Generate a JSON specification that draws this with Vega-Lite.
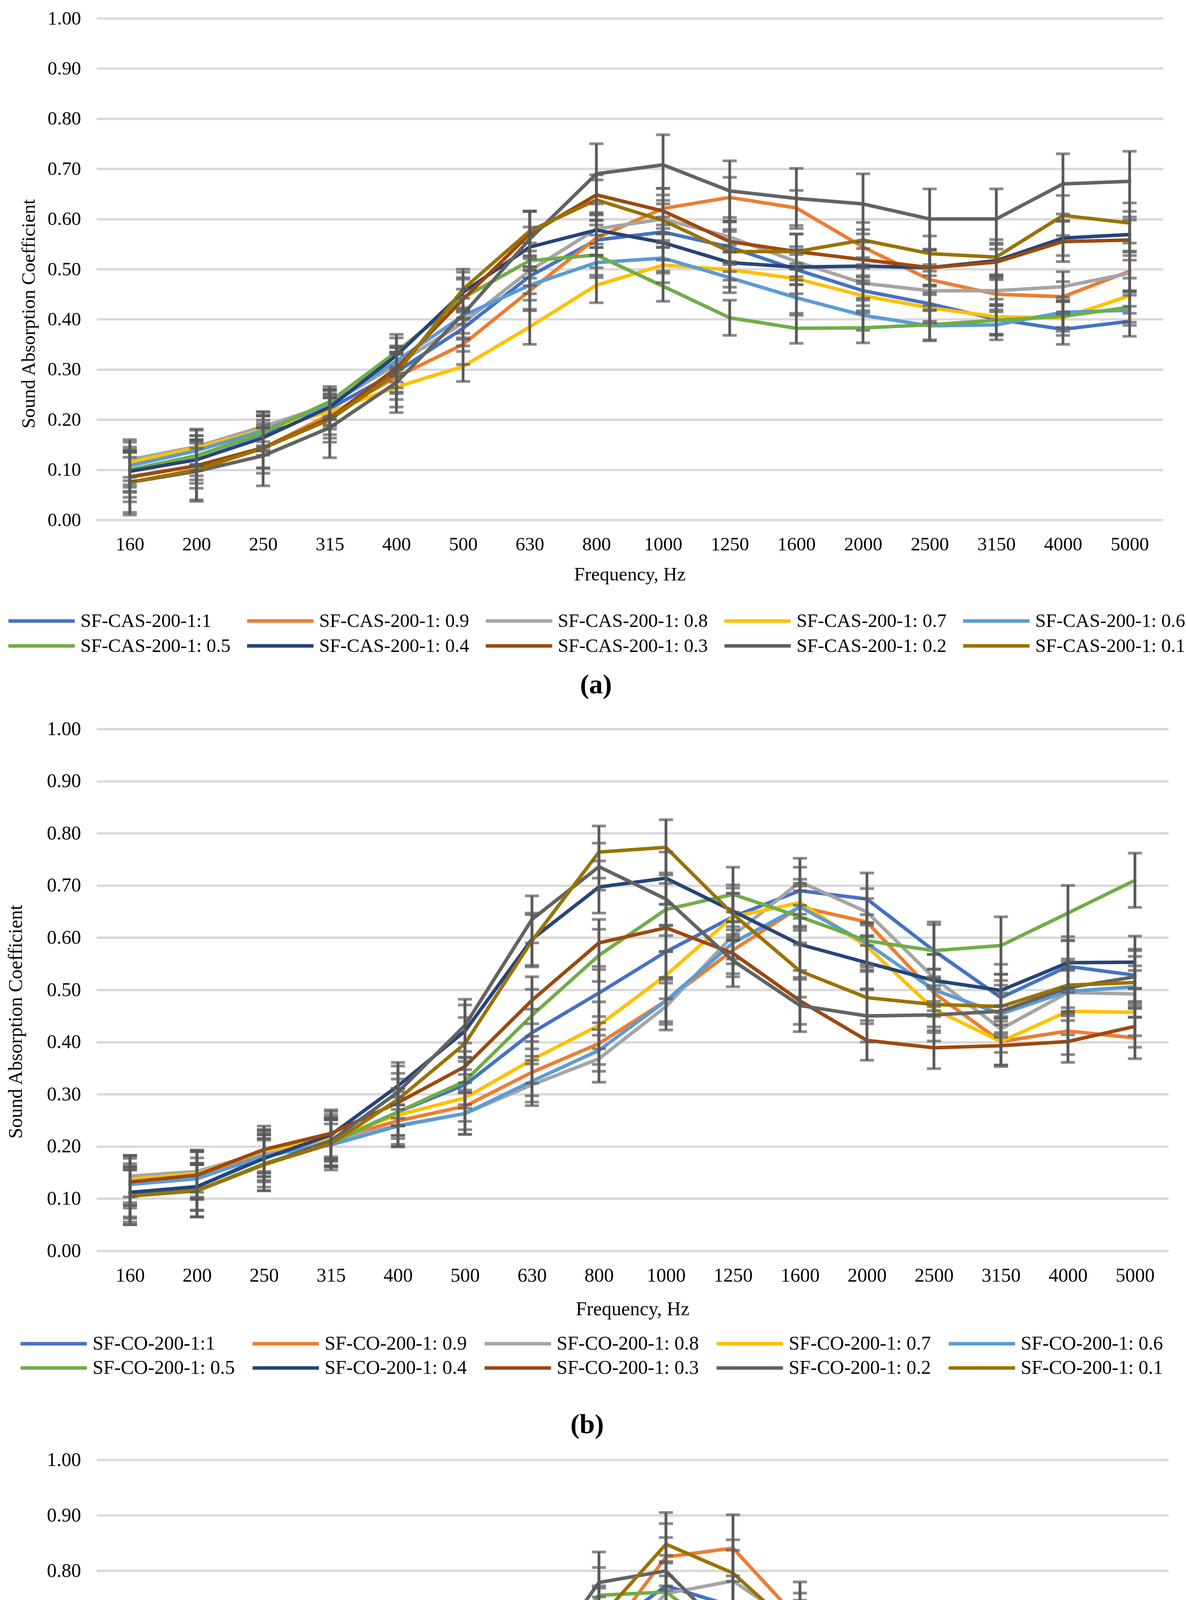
{
  "$schema": "https://vega.github.io/schema/vega-lite/v6.json",
  "background": "white",
  "padding": {"left": 15, "top": 23, "right": 5, "bottom": 5},
  "config": {
    "font": "Liberation Serif",
    "view": {"stroke": null},
    "axis": {"labelFont": "Liberation Serif", "titleFont": "Liberation Serif", "labelColor": "black", "titleColor": "black", "titleFontWeight": "normal"},
    "legend": {"labelFont": "Liberation Serif", "labelColor": "black"},
    "title": {"font": "Liberation Serif", "color": "black"}
  },
  "datasets": {
    "cas": [
      {"f":160,"s":"1:1","v":0.100,"e":0.045},{"f":200,"s":"1:1","v":0.128,"e":0.040},{"f":250,"s":"1:1","v":0.172,"e":0.035},{"f":315,"s":"1:1","v":0.222,"e":0.035},{"f":400,"s":"1:1","v":0.295,"e":0.040},{"f":500,"s":"1:1","v":0.382,"e":0.035},{"f":630,"s":"1:1","v":0.486,"e":0.035},{"f":800,"s":"1:1","v":0.558,"e":0.030},{"f":1000,"s":"1:1","v":0.574,"e":0.030},{"f":1250,"s":"1:1","v":0.544,"e":0.035},{"f":1600,"s":"1:1","v":0.499,"e":0.030},{"f":2000,"s":"1:1","v":0.457,"e":0.030},{"f":2500,"s":"1:1","v":0.431,"e":0.035},{"f":3150,"s":"1:1","v":0.400,"e":0.030},{"f":4000,"s":"1:1","v":0.380,"e":0.030},{"f":5000,"s":"1:1","v":0.396,"e":0.030},
      {"f":160,"s":"1: 0.9","v":0.085,"e":0.040},{"f":200,"s":"1: 0.9","v":0.108,"e":0.035},{"f":250,"s":"1: 0.9","v":0.143,"e":0.040},{"f":315,"s":"1: 0.9","v":0.210,"e":0.040},{"f":400,"s":"1: 0.9","v":0.285,"e":0.045},{"f":500,"s":"1: 0.9","v":0.350,"e":0.040},{"f":630,"s":"1: 0.9","v":0.457,"e":0.040},{"f":800,"s":"1: 0.9","v":0.562,"e":0.035},{"f":1000,"s":"1: 0.9","v":0.621,"e":0.040},{"f":1250,"s":"1: 0.9","v":0.643,"e":0.040},{"f":1600,"s":"1: 0.9","v":0.622,"e":0.035},{"f":2000,"s":"1: 0.9","v":0.544,"e":0.035},{"f":2500,"s":"1: 0.9","v":0.479,"e":0.030},{"f":3150,"s":"1: 0.9","v":0.450,"e":0.035},{"f":4000,"s":"1: 0.9","v":0.445,"e":0.030},{"f":5000,"s":"1: 0.9","v":0.496,"e":0.040},
      {"f":160,"s":"1: 0.8","v":0.120,"e":0.035},{"f":200,"s":"1: 0.8","v":0.146,"e":0.035},{"f":250,"s":"1: 0.8","v":0.186,"e":0.030},{"f":315,"s":"1: 0.8","v":0.230,"e":0.030},{"f":400,"s":"1: 0.8","v":0.310,"e":0.035},{"f":500,"s":"1: 0.8","v":0.393,"e":0.030},{"f":630,"s":"1: 0.8","v":0.497,"e":0.030},{"f":800,"s":"1: 0.8","v":0.580,"e":0.030},{"f":1000,"s":"1: 0.8","v":0.600,"e":0.030},{"f":1250,"s":"1: 0.8","v":0.564,"e":0.030},{"f":1600,"s":"1: 0.8","v":0.515,"e":0.030},{"f":2000,"s":"1: 0.8","v":0.472,"e":0.030},{"f":2500,"s":"1: 0.8","v":0.457,"e":0.030},{"f":3150,"s":"1: 0.8","v":0.457,"e":0.030},{"f":4000,"s":"1: 0.8","v":0.465,"e":0.030},{"f":5000,"s":"1: 0.8","v":0.492,"e":0.035},
      {"f":160,"s":"1: 0.7","v":0.115,"e":0.045},{"f":200,"s":"1: 0.7","v":0.144,"e":0.035},{"f":250,"s":"1: 0.7","v":0.180,"e":0.035},{"f":315,"s":"1: 0.7","v":0.216,"e":0.035},{"f":400,"s":"1: 0.7","v":0.265,"e":0.040},{"f":500,"s":"1: 0.7","v":0.306,"e":0.030},{"f":630,"s":"1: 0.7","v":0.385,"e":0.035},{"f":800,"s":"1: 0.7","v":0.468,"e":0.035},{"f":1000,"s":"1: 0.7","v":0.508,"e":0.035},{"f":1250,"s":"1: 0.7","v":0.499,"e":0.035},{"f":1600,"s":"1: 0.7","v":0.481,"e":0.030},{"f":2000,"s":"1: 0.7","v":0.447,"e":0.030},{"f":2500,"s":"1: 0.7","v":0.423,"e":0.030},{"f":3150,"s":"1: 0.7","v":0.405,"e":0.035},{"f":4000,"s":"1: 0.7","v":0.403,"e":0.035},{"f":5000,"s":"1: 0.7","v":0.447,"e":0.035},
      {"f":160,"s":"1: 0.6","v":0.108,"e":0.030},{"f":200,"s":"1: 0.6","v":0.138,"e":0.030},{"f":250,"s":"1: 0.6","v":0.178,"e":0.030},{"f":315,"s":"1: 0.6","v":0.230,"e":0.030},{"f":400,"s":"1: 0.6","v":0.317,"e":0.030},{"f":500,"s":"1: 0.6","v":0.407,"e":0.035},{"f":630,"s":"1: 0.6","v":0.468,"e":0.030},{"f":800,"s":"1: 0.6","v":0.513,"e":0.030},{"f":1000,"s":"1: 0.6","v":0.522,"e":0.030},{"f":1250,"s":"1: 0.6","v":0.483,"e":0.030},{"f":1600,"s":"1: 0.6","v":0.443,"e":0.035},{"f":2000,"s":"1: 0.6","v":0.408,"e":0.030},{"f":2500,"s":"1: 0.6","v":0.387,"e":0.030},{"f":3150,"s":"1: 0.6","v":0.389,"e":0.030},{"f":4000,"s":"1: 0.6","v":0.414,"e":0.030},{"f":5000,"s":"1: 0.6","v":0.418,"e":0.030},
      {"f":160,"s":"1: 0.5","v":0.100,"e":0.035},{"f":200,"s":"1: 0.5","v":0.128,"e":0.030},{"f":250,"s":"1: 0.5","v":0.174,"e":0.035},{"f":315,"s":"1: 0.5","v":0.236,"e":0.030},{"f":400,"s":"1: 0.5","v":0.335,"e":0.035},{"f":500,"s":"1: 0.5","v":0.443,"e":0.040},{"f":630,"s":"1: 0.5","v":0.517,"e":0.035},{"f":800,"s":"1: 0.5","v":0.528,"e":0.040},{"f":1000,"s":"1: 0.5","v":0.466,"e":0.030},{"f":1250,"s":"1: 0.5","v":0.403,"e":0.035},{"f":1600,"s":"1: 0.5","v":0.382,"e":0.030},{"f":2000,"s":"1: 0.5","v":0.383,"e":0.030},{"f":2500,"s":"1: 0.5","v":0.389,"e":0.030},{"f":3150,"s":"1: 0.5","v":0.398,"e":0.030},{"f":4000,"s":"1: 0.5","v":0.406,"e":0.030},{"f":5000,"s":"1: 0.5","v":0.424,"e":0.030},
      {"f":160,"s":"1: 0.4","v":0.097,"e":0.040},{"f":200,"s":"1: 0.4","v":0.120,"e":0.040},{"f":250,"s":"1: 0.4","v":0.164,"e":0.035},{"f":315,"s":"1: 0.4","v":0.225,"e":0.035},{"f":400,"s":"1: 0.4","v":0.328,"e":0.035},{"f":500,"s":"1: 0.4","v":0.454,"e":0.040},{"f":630,"s":"1: 0.4","v":0.544,"e":0.040},{"f":800,"s":"1: 0.4","v":0.578,"e":0.035},{"f":1000,"s":"1: 0.4","v":0.553,"e":0.035},{"f":1250,"s":"1: 0.4","v":0.513,"e":0.035},{"f":1600,"s":"1: 0.4","v":0.504,"e":0.035},{"f":2000,"s":"1: 0.4","v":0.506,"e":0.035},{"f":2500,"s":"1: 0.4","v":0.503,"e":0.035},{"f":3150,"s":"1: 0.4","v":0.517,"e":0.035},{"f":4000,"s":"1: 0.4","v":0.562,"e":0.035},{"f":5000,"s":"1: 0.4","v":0.569,"e":0.035},
      {"f":160,"s":"1: 0.3","v":0.086,"e":0.050},{"f":200,"s":"1: 0.3","v":0.108,"e":0.045},{"f":250,"s":"1: 0.3","v":0.144,"e":0.040},{"f":315,"s":"1: 0.3","v":0.203,"e":0.040},{"f":400,"s":"1: 0.3","v":0.303,"e":0.040},{"f":500,"s":"1: 0.3","v":0.440,"e":0.040},{"f":630,"s":"1: 0.3","v":0.570,"e":0.045},{"f":800,"s":"1: 0.3","v":0.648,"e":0.040},{"f":1000,"s":"1: 0.3","v":0.616,"e":0.045},{"f":1250,"s":"1: 0.3","v":0.555,"e":0.040},{"f":1600,"s":"1: 0.3","v":0.535,"e":0.035},{"f":2000,"s":"1: 0.3","v":0.519,"e":0.035},{"f":2500,"s":"1: 0.3","v":0.503,"e":0.035},{"f":3150,"s":"1: 0.3","v":0.514,"e":0.035},{"f":4000,"s":"1: 0.3","v":0.555,"e":0.040},{"f":5000,"s":"1: 0.3","v":0.558,"e":0.040},
      {"f":160,"s":"1: 0.2","v":0.075,"e":0.060},{"f":200,"s":"1: 0.2","v":0.097,"e":0.060},{"f":250,"s":"1: 0.2","v":0.128,"e":0.060},{"f":315,"s":"1: 0.2","v":0.184,"e":0.060},{"f":400,"s":"1: 0.2","v":0.274,"e":0.060},{"f":500,"s":"1: 0.2","v":0.410,"e":0.050},{"f":630,"s":"1: 0.2","v":0.560,"e":0.055},{"f":800,"s":"1: 0.2","v":0.690,"e":0.060},{"f":1000,"s":"1: 0.2","v":0.708,"e":0.060},{"f":1250,"s":"1: 0.2","v":0.656,"e":0.060},{"f":1600,"s":"1: 0.2","v":0.641,"e":0.060},{"f":2000,"s":"1: 0.2","v":0.630,"e":0.060},{"f":2500,"s":"1: 0.2","v":0.600,"e":0.060},{"f":3150,"s":"1: 0.2","v":0.600,"e":0.060},{"f":4000,"s":"1: 0.2","v":0.670,"e":0.060},{"f":5000,"s":"1: 0.2","v":0.675,"e":0.060},
      {"f":160,"s":"1: 0.1","v":0.075,"e":0.065},{"f":200,"s":"1: 0.1","v":0.100,"e":0.060},{"f":250,"s":"1: 0.1","v":0.143,"e":0.050},{"f":315,"s":"1: 0.1","v":0.200,"e":0.045},{"f":400,"s":"1: 0.1","v":0.292,"e":0.040},{"f":500,"s":"1: 0.1","v":0.460,"e":0.040},{"f":630,"s":"1: 0.1","v":0.576,"e":0.040},{"f":800,"s":"1: 0.1","v":0.638,"e":0.040},{"f":1000,"s":"1: 0.1","v":0.597,"e":0.040},{"f":1250,"s":"1: 0.1","v":0.535,"e":0.040},{"f":1600,"s":"1: 0.1","v":0.535,"e":0.035},{"f":2000,"s":"1: 0.1","v":0.558,"e":0.035},{"f":2500,"s":"1: 0.1","v":0.531,"e":0.035},{"f":3150,"s":"1: 0.1","v":0.524,"e":0.035},{"f":4000,"s":"1: 0.1","v":0.607,"e":0.040},{"f":5000,"s":"1: 0.1","v":0.592,"e":0.040}
    ],
    "co": [
      {"f":160,"s":"1:1","v":0.110,"e":0.045},{"f":200,"s":"1:1","v":0.122,"e":0.045},{"f":250,"s":"1:1","v":0.180,"e":0.045},{"f":315,"s":"1:1","v":0.208,"e":0.045},{"f":400,"s":"1:1","v":0.266,"e":0.045},{"f":500,"s":"1:1","v":0.318,"e":0.045},{"f":630,"s":"1:1","v":0.418,"e":0.045},{"f":800,"s":"1:1","v":0.494,"e":0.045},{"f":1000,"s":"1:1","v":0.573,"e":0.050},{"f":1250,"s":"1:1","v":0.640,"e":0.045},{"f":1600,"s":"1:1","v":0.690,"e":0.045},{"f":2000,"s":"1:1","v":0.674,"e":0.050},{"f":2500,"s":"1:1","v":0.575,"e":0.050},{"f":3150,"s":"1:1","v":0.485,"e":0.045},{"f":4000,"s":"1:1","v":0.545,"e":0.050},{"f":5000,"s":"1:1","v":0.528,"e":0.050},
      {"f":160,"s":"1: 0.9","v":0.132,"e":0.045},{"f":200,"s":"1: 0.9","v":0.145,"e":0.045},{"f":250,"s":"1: 0.9","v":0.187,"e":0.045},{"f":315,"s":"1: 0.9","v":0.213,"e":0.040},{"f":400,"s":"1: 0.9","v":0.249,"e":0.045},{"f":500,"s":"1: 0.9","v":0.277,"e":0.045},{"f":630,"s":"1: 0.9","v":0.342,"e":0.045},{"f":800,"s":"1: 0.9","v":0.397,"e":0.040},{"f":1000,"s":"1: 0.9","v":0.479,"e":0.045},{"f":1250,"s":"1: 0.9","v":0.576,"e":0.045},{"f":1600,"s":"1: 0.9","v":0.659,"e":0.045},{"f":2000,"s":"1: 0.9","v":0.630,"e":0.045},{"f":2500,"s":"1: 0.9","v":0.494,"e":0.045},{"f":3150,"s":"1: 0.9","v":0.401,"e":0.045},{"f":4000,"s":"1: 0.9","v":0.421,"e":0.045},{"f":5000,"s":"1: 0.9","v":0.408,"e":0.040},
      {"f":160,"s":"1: 0.8","v":0.143,"e":0.040},{"f":200,"s":"1: 0.8","v":0.152,"e":0.040},{"f":250,"s":"1: 0.8","v":0.189,"e":0.040},{"f":315,"s":"1: 0.8","v":0.211,"e":0.040},{"f":400,"s":"1: 0.8","v":0.240,"e":0.040},{"f":500,"s":"1: 0.8","v":0.263,"e":0.040},{"f":630,"s":"1: 0.8","v":0.318,"e":0.040},{"f":800,"s":"1: 0.8","v":0.368,"e":0.045},{"f":1000,"s":"1: 0.8","v":0.468,"e":0.045},{"f":1250,"s":"1: 0.8","v":0.604,"e":0.045},{"f":1600,"s":"1: 0.8","v":0.707,"e":0.045},{"f":2000,"s":"1: 0.8","v":0.649,"e":0.045},{"f":2500,"s":"1: 0.8","v":0.523,"e":0.045},{"f":3150,"s":"1: 0.8","v":0.425,"e":0.045},{"f":4000,"s":"1: 0.8","v":0.495,"e":0.045},{"f":5000,"s":"1: 0.8","v":0.492,"e":0.045},
      {"f":160,"s":"1: 0.7","v":0.137,"e":0.045},{"f":200,"s":"1: 0.7","v":0.148,"e":0.045},{"f":250,"s":"1: 0.7","v":0.192,"e":0.040},{"f":315,"s":"1: 0.7","v":0.216,"e":0.040},{"f":400,"s":"1: 0.7","v":0.260,"e":0.045},{"f":500,"s":"1: 0.7","v":0.293,"e":0.045},{"f":630,"s":"1: 0.7","v":0.366,"e":0.045},{"f":800,"s":"1: 0.7","v":0.432,"e":0.045},{"f":1000,"s":"1: 0.7","v":0.528,"e":0.045},{"f":1250,"s":"1: 0.7","v":0.640,"e":0.045},{"f":1600,"s":"1: 0.7","v":0.667,"e":0.045},{"f":2000,"s":"1: 0.7","v":0.583,"e":0.045},{"f":2500,"s":"1: 0.7","v":0.463,"e":0.045},{"f":3150,"s":"1: 0.7","v":0.401,"e":0.045},{"f":4000,"s":"1: 0.7","v":0.459,"e":0.045},{"f":5000,"s":"1: 0.7","v":0.457,"e":0.045},
      {"f":160,"s":"1: 0.6","v":0.127,"e":0.040},{"f":200,"s":"1: 0.6","v":0.138,"e":0.040},{"f":250,"s":"1: 0.6","v":0.182,"e":0.040},{"f":315,"s":"1: 0.6","v":0.203,"e":0.040},{"f":400,"s":"1: 0.6","v":0.239,"e":0.040},{"f":500,"s":"1: 0.6","v":0.263,"e":0.040},{"f":630,"s":"1: 0.6","v":0.325,"e":0.040},{"f":800,"s":"1: 0.6","v":0.384,"e":0.040},{"f":1000,"s":"1: 0.6","v":0.479,"e":0.040},{"f":1250,"s":"1: 0.6","v":0.590,"e":0.040},{"f":1600,"s":"1: 0.6","v":0.659,"e":0.040},{"f":2000,"s":"1: 0.6","v":0.589,"e":0.040},{"f":2500,"s":"1: 0.6","v":0.500,"e":0.040},{"f":3150,"s":"1: 0.6","v":0.454,"e":0.040},{"f":4000,"s":"1: 0.6","v":0.497,"e":0.040},{"f":5000,"s":"1: 0.6","v":0.506,"e":0.040},
      {"f":160,"s":"1: 0.5","v":0.105,"e":0.055},{"f":200,"s":"1: 0.5","v":0.115,"e":0.050},{"f":250,"s":"1: 0.5","v":0.167,"e":0.045},{"f":315,"s":"1: 0.5","v":0.206,"e":0.045},{"f":400,"s":"1: 0.5","v":0.266,"e":0.045},{"f":500,"s":"1: 0.5","v":0.325,"e":0.045},{"f":630,"s":"1: 0.5","v":0.451,"e":0.050},{"f":800,"s":"1: 0.5","v":0.566,"e":0.050},{"f":1000,"s":"1: 0.5","v":0.654,"e":0.050},{"f":1250,"s":"1: 0.5","v":0.683,"e":0.052},{"f":1600,"s":"1: 0.5","v":0.640,"e":0.050},{"f":2000,"s":"1: 0.5","v":0.594,"e":0.050},{"f":2500,"s":"1: 0.5","v":0.575,"e":0.055},{"f":3150,"s":"1: 0.5","v":0.585,"e":0.055},{"f":4000,"s":"1: 0.5","v":0.647,"e":0.053},{"f":5000,"s":"1: 0.5","v":0.710,"e":0.052},
      {"f":160,"s":"1: 0.4","v":0.112,"e":0.050},{"f":200,"s":"1: 0.4","v":0.123,"e":0.045},{"f":250,"s":"1: 0.4","v":0.177,"e":0.045},{"f":315,"s":"1: 0.4","v":0.222,"e":0.045},{"f":400,"s":"1: 0.4","v":0.316,"e":0.045},{"f":500,"s":"1: 0.4","v":0.421,"e":0.050},{"f":630,"s":"1: 0.4","v":0.597,"e":0.050},{"f":800,"s":"1: 0.4","v":0.697,"e":0.050},{"f":1000,"s":"1: 0.4","v":0.714,"e":0.050},{"f":1250,"s":"1: 0.4","v":0.651,"e":0.050},{"f":1600,"s":"1: 0.4","v":0.587,"e":0.050},{"f":2000,"s":"1: 0.4","v":0.552,"e":0.050},{"f":2500,"s":"1: 0.4","v":0.518,"e":0.050},{"f":3150,"s":"1: 0.4","v":0.499,"e":0.050},{"f":4000,"s":"1: 0.4","v":0.552,"e":0.050},{"f":5000,"s":"1: 0.4","v":0.553,"e":0.050},
      {"f":160,"s":"1: 0.3","v":0.132,"e":0.050},{"f":200,"s":"1: 0.3","v":0.145,"e":0.045},{"f":250,"s":"1: 0.3","v":0.194,"e":0.045},{"f":315,"s":"1: 0.3","v":0.225,"e":0.045},{"f":400,"s":"1: 0.3","v":0.284,"e":0.045},{"f":500,"s":"1: 0.3","v":0.353,"e":0.045},{"f":630,"s":"1: 0.3","v":0.480,"e":0.045},{"f":800,"s":"1: 0.3","v":0.590,"e":0.045},{"f":1000,"s":"1: 0.3","v":0.619,"e":0.045},{"f":1250,"s":"1: 0.3","v":0.570,"e":0.045},{"f":1600,"s":"1: 0.3","v":0.479,"e":0.045},{"f":2000,"s":"1: 0.3","v":0.403,"e":0.038},{"f":2500,"s":"1: 0.3","v":0.389,"e":0.040},{"f":3150,"s":"1: 0.3","v":0.393,"e":0.040},{"f":4000,"s":"1: 0.3","v":0.401,"e":0.040},{"f":5000,"s":"1: 0.3","v":0.430,"e":0.040},
      {"f":160,"s":"1: 0.2","v":0.105,"e":0.050},{"f":200,"s":"1: 0.2","v":0.115,"e":0.050},{"f":250,"s":"1: 0.2","v":0.165,"e":0.050},{"f":315,"s":"1: 0.2","v":0.211,"e":0.050},{"f":400,"s":"1: 0.2","v":0.304,"e":0.050},{"f":500,"s":"1: 0.2","v":0.432,"e":0.050},{"f":630,"s":"1: 0.2","v":0.635,"e":0.045},{"f":800,"s":"1: 0.2","v":0.736,"e":0.045},{"f":1000,"s":"1: 0.2","v":0.674,"e":0.050},{"f":1250,"s":"1: 0.2","v":0.556,"e":0.050},{"f":1600,"s":"1: 0.2","v":0.470,"e":0.050},{"f":2000,"s":"1: 0.2","v":0.450,"e":0.050},{"f":2500,"s":"1: 0.2","v":0.452,"e":0.050},{"f":3150,"s":"1: 0.2","v":0.459,"e":0.050},{"f":4000,"s":"1: 0.2","v":0.504,"e":0.050},{"f":5000,"s":"1: 0.2","v":0.525,"e":0.050},
      {"f":160,"s":"1: 0.1","v":0.105,"e":0.055},{"f":200,"s":"1: 0.1","v":0.115,"e":0.050},{"f":250,"s":"1: 0.1","v":0.165,"e":0.050},{"f":315,"s":"1: 0.1","v":0.205,"e":0.050},{"f":400,"s":"1: 0.1","v":0.290,"e":0.050},{"f":500,"s":"1: 0.1","v":0.397,"e":0.050},{"f":630,"s":"1: 0.1","v":0.594,"e":0.050},{"f":800,"s":"1: 0.1","v":0.764,"e":0.050},{"f":1000,"s":"1: 0.1","v":0.773,"e":0.053},{"f":1250,"s":"1: 0.1","v":0.645,"e":0.050},{"f":1600,"s":"1: 0.1","v":0.536,"e":0.050},{"f":2000,"s":"1: 0.1","v":0.485,"e":0.050},{"f":2500,"s":"1: 0.1","v":0.472,"e":0.050},{"f":3150,"s":"1: 0.1","v":0.468,"e":0.050},{"f":4000,"s":"1: 0.1","v":0.509,"e":0.050},{"f":5000,"s":"1: 0.1","v":0.514,"e":0.050}
    ],
    "pt": [
      {"f":160,"s":"1:1","v":0.102,"e":0.050},{"f":200,"s":"1:1","v":0.125,"e":0.050},{"f":250,"s":"1:1","v":0.195,"e":0.050},{"f":315,"s":"1:1","v":0.181,"e":0.050},{"f":400,"s":"1:1","v":0.255,"e":0.050},{"f":500,"s":"1:1","v":0.345,"e":0.050},{"f":630,"s":"1:1","v":0.493,"e":0.050},{"f":800,"s":"1:1","v":0.685,"e":0.050},{"f":1000,"s":"1:1","v":0.773,"e":0.055},{"f":1250,"s":"1:1","v":0.736,"e":0.055},{"f":1600,"s":"1:1","v":0.644,"e":0.060},{"f":2000,"s":"1:1","v":0.568,"e":0.050},{"f":2500,"s":"1:1","v":0.527,"e":0.050},{"f":3150,"s":"1:1","v":0.509,"e":0.050},{"f":4000,"s":"1:1","v":0.560,"e":0.050},{"f":5000,"s":"1:1","v":0.555,"e":0.050},
      {"f":160,"s":"1: 0.9","v":0.092,"e":0.060},{"f":200,"s":"1: 0.9","v":0.113,"e":0.055},{"f":250,"s":"1: 0.9","v":0.181,"e":0.055},{"f":315,"s":"1: 0.9","v":0.152,"e":0.060},{"f":400,"s":"1: 0.9","v":0.217,"e":0.060},{"f":500,"s":"1: 0.9","v":0.302,"e":0.060},{"f":630,"s":"1: 0.9","v":0.450,"e":0.060},{"f":800,"s":"1: 0.9","v":0.665,"e":0.055},{"f":1000,"s":"1: 0.9","v":0.825,"e":0.060},{"f":1250,"s":"1: 0.9","v":0.841,"e":0.060},{"f":1600,"s":"1: 0.9","v":0.710,"e":0.070},{"f":2000,"s":"1: 0.9","v":0.572,"e":0.055},{"f":2500,"s":"1: 0.9","v":0.474,"e":0.050},{"f":3150,"s":"1: 0.9","v":0.447,"e":0.050},{"f":4000,"s":"1: 0.9","v":0.466,"e":0.050},{"f":5000,"s":"1: 0.9","v":0.495,"e":0.050},
      {"f":160,"s":"1: 0.8","v":0.095,"e":0.055},{"f":200,"s":"1: 0.8","v":0.118,"e":0.055},{"f":250,"s":"1: 0.8","v":0.184,"e":0.055},{"f":315,"s":"1: 0.8","v":0.159,"e":0.055},{"f":400,"s":"1: 0.8","v":0.223,"e":0.055},{"f":500,"s":"1: 0.8","v":0.312,"e":0.055},{"f":630,"s":"1: 0.8","v":0.453,"e":0.055},{"f":800,"s":"1: 0.8","v":0.635,"e":0.055},{"f":1000,"s":"1: 0.8","v":0.759,"e":0.055},{"f":1250,"s":"1: 0.8","v":0.782,"e":0.055},{"f":1600,"s":"1: 0.8","v":0.700,"e":0.060},{"f":2000,"s":"1: 0.8","v":0.601,"e":0.055},{"f":2500,"s":"1: 0.8","v":0.519,"e":0.050},{"f":3150,"s":"1: 0.8","v":0.496,"e":0.050},{"f":4000,"s":"1: 0.8","v":0.535,"e":0.050},{"f":5000,"s":"1: 0.8","v":0.555,"e":0.050},
      {"f":160,"s":"1: 0.7","v":0.105,"e":0.050},{"f":200,"s":"1: 0.7","v":0.131,"e":0.050},{"f":250,"s":"1: 0.7","v":0.209,"e":0.050},{"f":315,"s":"1: 0.7","v":0.205,"e":0.050},{"f":400,"s":"1: 0.7","v":0.273,"e":0.050},{"f":500,"s":"1: 0.7","v":0.379,"e":0.050},{"f":630,"s":"1: 0.7","v":0.499,"e":0.050},{"f":800,"s":"1: 0.7","v":0.603,"e":0.050},{"f":1000,"s":"1: 0.7","v":0.634,"e":0.050},{"f":1250,"s":"1: 0.7","v":0.639,"e":0.050},{"f":1600,"s":"1: 0.7","v":0.640,"e":0.050},{"f":2000,"s":"1: 0.7","v":0.621,"e":0.045},{"f":2500,"s":"1: 0.7","v":0.558,"e":0.045},{"f":3150,"s":"1: 0.7","v":0.519,"e":0.045},{"f":4000,"s":"1: 0.7","v":0.566,"e":0.045},{"f":5000,"s":"1: 0.7","v":0.549,"e":0.045},
      {"f":160,"s":"1: 0.6","v":0.108,"e":0.045},{"f":200,"s":"1: 0.6","v":0.151,"e":0.045},{"f":250,"s":"1: 0.6","v":0.231,"e":0.045},{"f":315,"s":"1: 0.6","v":0.233,"e":0.045},{"f":400,"s":"1: 0.6","v":0.305,"e":0.045},{"f":500,"s":"1: 0.6","v":0.401,"e":0.045},{"f":630,"s":"1: 0.6","v":0.496,"e":0.045},{"f":800,"s":"1: 0.6","v":0.562,"e":0.045},{"f":1000,"s":"1: 0.6","v":0.576,"e":0.040},{"f":1250,"s":"1: 0.6","v":0.547,"e":0.045},{"f":1600,"s":"1: 0.6","v":0.560,"e":0.045},{"f":2000,"s":"1: 0.6","v":0.566,"e":0.045},{"f":2500,"s":"1: 0.6","v":0.490,"e":0.045},{"f":3150,"s":"1: 0.6","v":0.434,"e":0.045},{"f":4000,"s":"1: 0.6","v":0.461,"e":0.045},{"f":5000,"s":"1: 0.6","v":0.466,"e":0.045},
      {"f":160,"s":"1: 0.5","v":0.120,"e":0.065},{"f":200,"s":"1: 0.5","v":0.151,"e":0.055},{"f":250,"s":"1: 0.5","v":0.230,"e":0.050},{"f":315,"s":"1: 0.5","v":0.237,"e":0.050},{"f":400,"s":"1: 0.5","v":0.329,"e":0.050},{"f":500,"s":"1: 0.5","v":0.463,"e":0.050},{"f":630,"s":"1: 0.5","v":0.624,"e":0.050},{"f":800,"s":"1: 0.5","v":0.756,"e":0.050},{"f":1000,"s":"1: 0.5","v":0.762,"e":0.055},{"f":1250,"s":"1: 0.5","v":0.673,"e":0.050},{"f":1600,"s":"1: 0.5","v":0.581,"e":0.050},{"f":2000,"s":"1: 0.5","v":0.522,"e":0.050},{"f":2500,"s":"1: 0.5","v":0.472,"e":0.050},{"f":3150,"s":"1: 0.5","v":0.460,"e":0.050},{"f":4000,"s":"1: 0.5","v":0.530,"e":0.050},{"f":5000,"s":"1: 0.5","v":0.518,"e":0.050},
      {"f":160,"s":"1: 0.4","v":0.112,"e":0.055},{"f":200,"s":"1: 0.4","v":0.139,"e":0.050},{"f":250,"s":"1: 0.4","v":0.215,"e":0.050},{"f":315,"s":"1: 0.4","v":0.218,"e":0.050},{"f":400,"s":"1: 0.4","v":0.310,"e":0.050},{"f":500,"s":"1: 0.4","v":0.435,"e":0.050},{"f":630,"s":"1: 0.4","v":0.601,"e":0.050},{"f":800,"s":"1: 0.4","v":0.703,"e":0.050},{"f":1000,"s":"1: 0.4","v":0.657,"e":0.050},{"f":1250,"s":"1: 0.4","v":0.534,"e":0.045},{"f":1600,"s":"1: 0.4","v":0.460,"e":0.045},{"f":2000,"s":"1: 0.4","v":0.442,"e":0.060},{"f":2500,"s":"1: 0.4","v":0.422,"e":0.040},{"f":3150,"s":"1: 0.4","v":0.396,"e":0.044},{"f":4000,"s":"1: 0.4","v":0.434,"e":0.045},{"f":5000,"s":"1: 0.4","v":0.419,"e":0.046},
      {"f":160,"s":"1: 0.3","v":0.118,"e":0.060},{"f":200,"s":"1: 0.3","v":0.145,"e":0.055},{"f":250,"s":"1: 0.3","v":0.215,"e":0.055},{"f":315,"s":"1: 0.3","v":0.214,"e":0.055},{"f":400,"s":"1: 0.3","v":0.299,"e":0.055},{"f":500,"s":"1: 0.3","v":0.428,"e":0.055},{"f":630,"s":"1: 0.3","v":0.586,"e":0.055},{"f":800,"s":"1: 0.3","v":0.714,"e":0.055},{"f":1000,"s":"1: 0.3","v":0.718,"e":0.055},{"f":1250,"s":"1: 0.3","v":0.609,"e":0.055},{"f":1600,"s":"1: 0.3","v":0.534,"e":0.050},{"f":2000,"s":"1: 0.3","v":0.506,"e":0.050},{"f":2500,"s":"1: 0.3","v":0.483,"e":0.050},{"f":3150,"s":"1: 0.3","v":0.476,"e":0.050},{"f":4000,"s":"1: 0.3","v":0.553,"e":0.050},{"f":5000,"s":"1: 0.3","v":0.564,"e":0.050},
      {"f":160,"s":"1: 0.2","v":0.113,"e":0.070},{"f":200,"s":"1: 0.2","v":0.139,"e":0.060},{"f":250,"s":"1: 0.2","v":0.207,"e":0.060},{"f":315,"s":"1: 0.2","v":0.200,"e":0.060},{"f":400,"s":"1: 0.2","v":0.283,"e":0.060},{"f":500,"s":"1: 0.2","v":0.420,"e":0.060},{"f":630,"s":"1: 0.2","v":0.611,"e":0.060},{"f":800,"s":"1: 0.2","v":0.779,"e":0.055},{"f":1000,"s":"1: 0.2","v":0.800,"e":0.060},{"f":1250,"s":"1: 0.2","v":0.678,"e":0.060},{"f":1600,"s":"1: 0.2","v":0.596,"e":0.060},{"f":2000,"s":"1: 0.2","v":0.591,"e":0.060},{"f":2500,"s":"1: 0.2","v":0.581,"e":0.060},{"f":3150,"s":"1: 0.2","v":0.542,"e":0.060},{"f":4000,"s":"1: 0.2","v":0.647,"e":0.058},{"f":5000,"s":"1: 0.2","v":0.608,"e":0.060},
      {"f":160,"s":"1: 0.1","v":0.126,"e":0.060},{"f":200,"s":"1: 0.1","v":0.148,"e":0.055},{"f":250,"s":"1: 0.1","v":0.210,"e":0.055},{"f":315,"s":"1: 0.1","v":0.190,"e":0.060},{"f":400,"s":"1: 0.1","v":0.253,"e":0.060},{"f":500,"s":"1: 0.1","v":0.355,"e":0.060},{"f":630,"s":"1: 0.1","v":0.512,"e":0.060},{"f":800,"s":"1: 0.1","v":0.713,"e":0.060},{"f":1000,"s":"1: 0.1","v":0.848,"e":0.057},{"f":1250,"s":"1: 0.1","v":0.796,"e":0.060},{"f":1600,"s":"1: 0.1","v":0.687,"e":0.060},{"f":2000,"s":"1: 0.1","v":0.586,"e":0.060},{"f":2500,"s":"1: 0.1","v":0.553,"e":0.060},{"f":3150,"s":"1: 0.1","v":0.566,"e":0.060},{"f":4000,"s":"1: 0.1","v":0.614,"e":0.060},{"f":5000,"s":"1: 0.1","v":0.647,"e":0.060}
    ]
  },
  "bounds": "flush",
  "spacing": 535,
  "resolve": {"scale": {"color": "independent"}, "legend": {"color": "independent"}},
  "vconcat": [
    {
      "width": 2730,
      "height": 1284,
      "data": {"name": "cas"},
      "title": {"text": "(a)", "orient": "bottom", "frame": "bounds", "anchor": "middle", "baseline": "top", "offset": 41, "fontSize": 70, "fontWeight": "bold"},
      "encoding": {
        "x": {"field": "f", "type": "ordinal", "title": "Frequency, Hz", "scale": {"type": "point", "padding": 0.5},
          "axis": {"labelAngle": 0, "labelFontSize": 49, "labelPadding": 38, "titleFontSize": 49, "titlePadding": 28, "domain": false, "ticks": false, "grid": false}},
        "y": {"field": "v", "type": "quantitative", "title": "Sound Absorption Coefficient", "scale": {"domain": [0, 1]},
          "axis": {"values": [0, 0.1, 0.2, 0.3, 0.4, 0.5, 0.6, 0.7, 0.8, 0.9, 1], "format": ".2f", "grid": true, "gridColor": "#d9d9d9", "gridWidth": 6, "domain": false, "ticks": false, "labelFontSize": 49, "labelPadding": 40, "titleFontSize": 49, "titleAngle": -90, "titleBaseline": "middle", "titleX": -174, "titleY": 756}}
      },
      "layer": [
        {
          "mark": {"type": "line", "strokeWidth": 9, "strokeJoin": "round", "strokeCap": "round"},
          "encoding": {
            "color": {"field": "s", "type": "nominal",
              "scale": {"domain": ["1:1", "1: 0.9", "1: 0.8", "1: 0.7", "1: 0.6", "1: 0.5", "1: 0.4", "1: 0.3", "1: 0.2", "1: 0.1"], "range": ["#4472C4", "#ED7D31", "#A5A5A5", "#FFC000", "#5B9BD5", "#70AD47", "#264478", "#9E480E", "#636363", "#997300"]},
              "legend": {"orient": "none", "legendX": -230, "legendY": 1518, "direction": "horizontal", "columns": 5, "title": null, "padding": 0, "gridAlign": "all", "symbolType": "stroke", "symbolSize": 28900, "symbolStrokeWidth": 9, "clipHeight": 49, "labelFontSize": 49, "labelLimit": 1000, "labelOffset": 10, "columnPadding": 38, "rowPadding": 14, "labelExpr": "'SF-CAS-200-' + datum.label"}}
          }
        },
        {
          "mark": {"type": "errorbar", "ticks": true, "size": 36, "thickness": 7, "color": "#595959"},
          "encoding": {"yError": {"field": "e"}}
        }
      ]
    },
    {
      "width": 2744,
      "height": 1336,
      "data": {"name": "co"},
      "title": {"text": "(b)", "orient": "bottom", "frame": "bounds", "anchor": "middle", "baseline": "top", "offset": 87, "fontSize": 70, "fontWeight": "bold"},
      "encoding": {
        "x": {"field": "f", "type": "ordinal", "title": "Frequency, Hz", "scale": {"type": "point", "padding": 0.5},
          "axis": {"labelAngle": 0, "labelFontSize": 50, "labelPadding": 38, "titleFontSize": 50, "titlePadding": 36, "domain": false, "ticks": false, "grid": false}},
        "y": {"field": "v", "type": "quantitative", "title": "Sound Absorption Coefficient", "scale": {"domain": [0, 1]},
          "axis": {"values": [0, 0.1, 0.2, 0.3, 0.4, 0.5, 0.6, 0.7, 0.8, 0.9, 1], "format": ".2f", "grid": true, "gridColor": "#d9d9d9", "gridWidth": 6, "domain": false, "ticks": false, "labelFontSize": 50, "labelPadding": 40, "titleFontSize": 50, "titleAngle": -90, "titleBaseline": "middle", "titleX": -207, "titleY": 749}}
      },
      "layer": [
        {
          "mark": {"type": "line", "strokeWidth": 9, "strokeJoin": "round", "strokeCap": "round"},
          "encoding": {
            "color": {"field": "s", "type": "nominal",
              "scale": {"domain": ["1:1", "1: 0.9", "1: 0.8", "1: 0.7", "1: 0.6", "1: 0.5", "1: 0.4", "1: 0.3", "1: 0.2", "1: 0.1"], "range": ["#4472C4", "#ED7D31", "#A5A5A5", "#FFC000", "#5B9BD5", "#70AD47", "#264478", "#9E480E", "#636363", "#997300"]},
              "legend": {"orient": "none", "legendX": -199, "legendY": 1549, "direction": "horizontal", "columns": 5, "title": null, "padding": 0, "gridAlign": "all", "symbolType": "stroke", "symbolSize": 28900, "symbolStrokeWidth": 9, "clipHeight": 50, "labelFontSize": 50, "labelLimit": 1000, "labelOffset": 10, "columnPadding": 41, "rowPadding": 12, "labelExpr": "'SF-CO-200-' + datum.label"}}
          }
        },
        {
          "mark": {"type": "errorbar", "ticks": true, "size": 36, "thickness": 7, "color": "#595959"},
          "encoding": {"yError": {"field": "e"}}
        }
      ]
    },
    {
      "width": 2744,
      "height": 1422,
      "data": {"name": "pt"},
      "title": {"text": "(c)", "orient": "bottom", "frame": "bounds", "anchor": "middle", "baseline": "top", "offset": 86, "fontSize": 70, "fontWeight": "bold"},
      "encoding": {
        "x": {"field": "f", "type": "ordinal", "title": "Frequency, Hz", "scale": {"type": "point", "padding": 0.5},
          "axis": {"labelAngle": 0, "labelFontSize": 50, "labelPadding": 38, "titleFontSize": 50, "titlePadding": 38, "domain": false, "ticks": false, "grid": false}},
        "y": {"field": "v", "type": "quantitative", "title": "Sound Absorption Coefficient", "scale": {"domain": [0, 1]},
          "axis": {"values": [0, 0.1, 0.2, 0.3, 0.4, 0.5, 0.6, 0.7, 0.8, 0.9, 1], "format": ".2f", "grid": true, "gridColor": "#d9d9d9", "gridWidth": 6, "domain": false, "ticks": false, "labelFontSize": 50, "labelPadding": 40, "titleFontSize": 50, "titleAngle": -90, "titleBaseline": "middle", "titleX": -184, "titleY": 778}}
      },
      "layer": [
        {
          "mark": {"type": "line", "strokeWidth": 9, "strokeJoin": "round", "strokeCap": "round"},
          "encoding": {
            "color": {"field": "s", "type": "nominal",
              "scale": {"domain": ["1:1", "1: 0.9", "1: 0.8", "1: 0.7", "1: 0.6", "1: 0.5", "1: 0.4", "1: 0.3", "1: 0.2", "1: 0.1"], "range": ["#4472C4", "#ED7D31", "#A5A5A5", "#FFC000", "#5B9BD5", "#70AD47", "#264478", "#9E480E", "#636363", "#997300"]},
              "legend": {"orient": "none", "legendX": -189, "legendY": 1646, "direction": "horizontal", "columns": 5, "title": null, "padding": 0, "gridAlign": "all", "symbolType": "stroke", "symbolSize": 28900, "symbolStrokeWidth": 9, "clipHeight": 50, "labelFontSize": 50, "labelLimit": 1000, "labelOffset": 10, "columnPadding": 61, "rowPadding": 16, "labelExpr": "'SF-PT-200-' + datum.label"}}
          }
        },
        {
          "mark": {"type": "errorbar", "ticks": true, "size": 36, "thickness": 7, "color": "#595959"},
          "encoding": {"yError": {"field": "e"}}
        }
      ]
    }
  ]
}
